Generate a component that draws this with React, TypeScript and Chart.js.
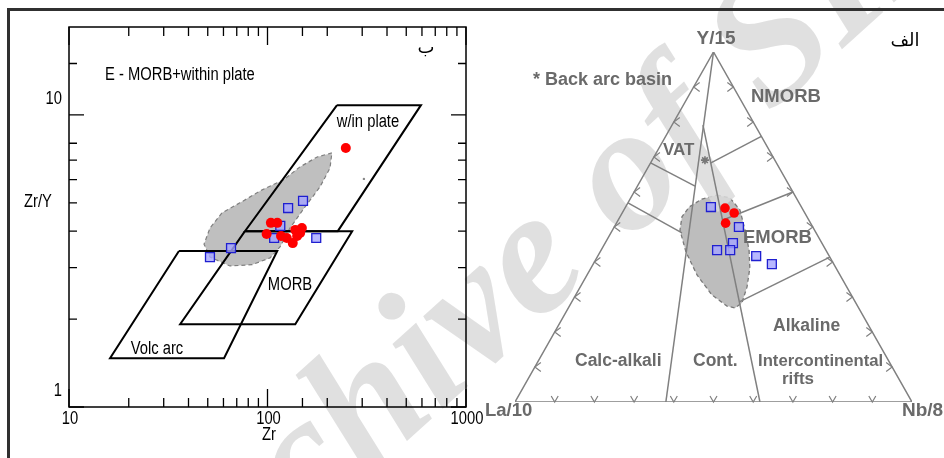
import { useEffect, useRef } from 'react';
import { Chart, registerables } from 'chart.js';

Chart.register(...registerables);

// ---------- Left diagram: Zr (log) vs Zr/Y (log) ----------
const zrMin = 10;
const zrMax = 1000;
const zrYMin = 1;
const zrYMax = 20;
const zrTickLabels = [10, 100, 1000];
const zrYTickLabels = [1, 10];
const zrYUnmarkedTicks = [9, 20];

const redZr = [248, 104, 112, 99, 117, 125, 138, 149, 141, 134, 146];
const redZrY = [7.7, 4.27, 4.27, 3.91, 3.85, 3.79, 4.04, 4.1, 3.85, 3.64, 3.94];
const blueZr = [51.3, 65.5, 108, 116, 127, 151, 176];
const blueZrY = [3.26, 3.5, 3.79, 4.17, 4.8, 5.08, 3.79];
const greyZr = [306];
const greyZrY = [6.04];

const withinPlateZr = [224, 593, 226, 77, 224];
const withinPlateZrY = [10.8, 10.8, 4.0, 4.0, 10.8];
const morbZr = [77, 267, 138, 36.3, 77];
const morbZrY = [4.0, 4.0, 1.92, 1.92, 4.0];
const volcArcZr = [35.8, 112, 60.4, 16.1, 35.8];
const volcArcZrY = [3.42, 3.42, 1.47, 1.47, 3.42];

const sampleFieldZr = [211, 178, 146, 120, 94, 72.6, 59, 51.3, 47.9, 51.3, 64.7, 83.6, 103, 115.6, 129.8, 154.5, 183.8, 206.5, 211];
const sampleFieldZrY = [7.41, 7.18, 6.64, 5.99, 5.54, 5.0, 4.62, 4.1, 3.61, 3.26, 3.04, 3.07, 3.24, 3.53, 4.1, 4.84, 5.67, 6.58, 7.41];

// ---------- Right diagram: La/10 - Y/15 - Nb/8 ternary (fractions) ----------
const ternRedLa = [0.194, 0.178, 0.214];
const ternRedY = [0.554, 0.54, 0.511];
const ternRedNb = [0.252, 0.282, 0.275];
const ternBlueLa = [0.228, 0.186, 0.224, 0.241, 0.274, 0.184, 0.156];
const ternBlueY = [0.557, 0.5, 0.454, 0.434, 0.434, 0.417, 0.394];
const ternBlueNb = [0.215, 0.314, 0.322, 0.325, 0.292, 0.399, 0.45];
const backArcLa = [0.176];
const backArcY = [0.691];
const backArcNb = [0.133];

const ternFieldLa = [0.196, 0.167, 0.159, 0.175, 0.193, 0.217, 0.251, 0.287, 0.312, 0.329, 0.351, 0.36, 0.355, 0.339, 0.315, 0.283, 0.239, 0.196];
const ternFieldY = [0.591, 0.583, 0.549, 0.491, 0.434, 0.383, 0.329, 0.283, 0.269, 0.274, 0.306, 0.363, 0.429, 0.491, 0.529, 0.557, 0.58, 0.591];
const ternFieldNb = [0.213, 0.25, 0.292, 0.334, 0.372, 0.4, 0.42, 0.43, 0.42, 0.397, 0.343, 0.277, 0.216, 0.17, 0.156, 0.16, 0.181, 0.213];

const ternFrame = [[1, 0, 0], [0, 0, 1], [0, 1, 0], [1, 0, 0]];
const calcAlkaliBoundary = [[0, 1, 0], [0.62, 0, 0.38]];
const contBoundary = [[0.131, 0.791, 0.078], [0.383, 0, 0.617]];
const vatBoundary = [[0.317, 0.683, 0], [0.238, 0.617, 0.145]];
const vatLowerBoundary = [[0.431, 0.569, 0], [0.338, 0.483, 0.179]];
const nmorbBoundary = [[0.165, 0.683, 0.152], [0, 0.759, 0.241]];
const emorbBoundary = [[0.216, 0.52, 0.264], [0, 0.6, 0.4]];
const alkalineBoundary = [[0.292, 0.286, 0.422], [0, 0.414, 0.586]];
const ternTickFractions = [0.1, 0.2, 0.3, 0.4, 0.5, 0.6, 0.7, 0.8, 0.9];

const SANS = '"Liberation Sans", Arial, sans-serif';
const NARROW_SCALE = 0.82;
const LEFT_CANVAS_X = 0;
const RIGHT_CANVAS_X = 480;
const SPLIT_X = 480;

const pairs = (xs: number[], ys: number[]) => xs.map((x, i) => ({ x, y: ys[i] }));
const tern = (la: number, y: number, nb: number) => {
  const s = la + y + nb;
  return { x: (nb + y / 2) / s, y: y / s };
};
const ternList = (pts: number[][]) => pts.map((p) => tern(p[0], p[1], p[2]));
const ternArrays = (la: number[], y: number[], nb: number[]) => la.map((v, i) => tern(v, y[i], nb[i]));
const isDecade = (v: number) => Math.abs(Math.log10(v) - Math.round(Math.log10(v))) < 1e-6;
const inList = (list: number[], v: number) => list.some((l) => Math.abs(l - v) / l < 1e-6);

const leftLabels = [
  { text: 'E - MORB+within plate', x: 105, y: 75, align: 'left' },
  { text: 'w/in plate', x: 368, y: 122, align: 'center' },
  { text: 'MORB', x: 290, y: 285, align: 'center' },
  { text: 'Volc arc', x: 157, y: 349, align: 'center' },
  { text: 'Zr', x: 269, y: 435, align: 'center' },
  { text: 'Zr/Y', x: 38, y: 202, align: 'center' },
];

const rightLabels = [
  { text: 'Y/15', x: 236, y: 39, size: 19, align: 'center' },
  { text: '* Back arc basin', x: 53, y: 80, size: 18, align: 'left' },
  { text: 'NMORB', x: 271, y: 97, size: 18.5, align: 'left' },
  { text: 'VAT', x: 183, y: 150, size: 17, align: 'left' },
  { text: 'EMORB', x: 263, y: 238, size: 18.5, align: 'left' },
  { text: 'Alkaline', x: 293, y: 326, size: 17.5, align: 'left' },
  { text: 'Calc-alkali', x: 95, y: 361, size: 17.5, align: 'left' },
  { text: 'Cont.', x: 213, y: 361, size: 17.5, align: 'left' },
  { text: 'Intercontinental', x: 278, y: 361, size: 16.7, align: 'left' },
  { text: 'rifts', x: 318, y: 379, size: 17, align: 'center' },
  { text: 'La/10', x: 5, y: 411, size: 18.5, align: 'left' },
  { text: 'Nb/8', x: 422, y: 411, size: 19, align: 'left' },
];

const narrowText = (ctx: any, text: string, x: number, y: number, align: string) => {
  ctx.save();
  ctx.translate(x, y);
  ctx.scale(NARROW_SCALE, 1);
  ctx.textAlign = align;
  ctx.fillText(text, 0, 0);
  ctx.restore();
};

// watermark, drawn above the grey fields but below the lines and symbols
const drawWatermark = (ctx: any, canvasX: number, clipFrom: number, clipTo: number) => {
  ctx.save();
  ctx.beginPath();
  ctx.rect(clipFrom - canvasX, 0, clipTo - clipFrom, 458);
  ctx.clip();
  ctx.translate(548 - canvasX, 252);
  ctx.rotate((-42 * Math.PI) / 180);
  ctx.font = 'italic bold 178px "Liberation Serif", serif';
  ctx.textAlign = 'center';
  ctx.textBaseline = 'middle';
  ctx.fillStyle = 'rgba(218,218,218,0.85)';
  ctx.fillText('Archive of SID', 0, 0);
  ctx.restore();
};

const leftDecor = {
  id: 'leftDecor',
  afterDatasetDraw(chart: any, args: any) {
    if (args.meta.order === 6) drawWatermark(chart.ctx, LEFT_CANVAS_X, 0, SPLIT_X);
  },
  afterDatasetsDraw(chart: any) {
    const { ctx, chartArea: a, scales } = chart;
    const xs = scales.x;
    const ys = scales.y;
    ctx.save();
    ctx.strokeStyle = '#000';
    ctx.lineWidth = 1.5;
    ctx.strokeRect(a.left, a.top, a.right - a.left, a.bottom - a.top);
    ctx.lineWidth = 1.3;
    ctx.beginPath();
    for (const t of xs.ticks) {
      const p = xs.getPixelForValue(t.value);
      const len = isDecade(t.value) ? 18 : 9;
      ctx.moveTo(p, a.bottom);
      ctx.lineTo(p, a.bottom - len);
      ctx.moveTo(p, a.top);
      ctx.lineTo(p, a.top + len);
    }
    for (const t of ys.ticks) {
      if (inList(zrYUnmarkedTicks, t.value)) continue;
      const p = ys.getPixelForValue(t.value);
      const len = isDecade(t.value) ? 15 : 8;
      ctx.moveTo(a.left, p);
      ctx.lineTo(a.left + len, p);
      ctx.moveTo(a.right, p);
      ctx.lineTo(a.right - len, p);
    }
    ctx.stroke();
    ctx.fillStyle = '#000';
    ctx.textBaseline = 'middle';
    ctx.font = `18px ${SANS}`;
    for (const t of xs.ticks) {
      if (!inList(zrTickLabels, t.value)) continue;
      narrowText(ctx, String(Math.round(t.value)), xs.getPixelForValue(t.value) + 1, a.bottom + 12, 'center');
    }
    for (const t of ys.ticks) {
      if (!inList(zrYTickLabels, t.value)) continue;
      narrowText(ctx, String(Math.round(t.value)), a.left - 7, ys.getPixelForValue(t.value) - 16, 'right');
    }
    for (const l of leftLabels) narrowText(ctx, l.text, l.x, l.y, l.align);
    ctx.font = '18px "DejaVu Sans", serif';
    ctx.textAlign = 'center';
    ctx.fillText('ب', 426, 48);
    ctx.restore();
  },
};

const ternDecor = {
  id: 'ternDecor',
  afterDatasetDraw(chart: any, args: any) {
    if (args.meta.order === 6) drawWatermark(chart.ctx, RIGHT_CANVAS_X, SPLIT_X, 944);
  },
  afterDatasetsDraw(chart: any) {
    const { ctx, scales } = chart;
    const xs = scales.x;
    const ys = scales.y;
    const px = (p: { x: number; y: number }) => ({ X: xs.getPixelForValue(p.x), Y: ys.getPixelForValue(p.y) });
    ctx.save();
    ctx.strokeStyle = '#808080';
    ctx.lineWidth = 1.2;
    ctx.beginPath();
    for (const f of ternTickFractions) {
      let t = px(tern(1 - f, 0, f));
      ctx.moveTo(t.X - 3.5, t.Y - 6);
      ctx.lineTo(t.X, t.Y);
      ctx.lineTo(t.X + 3.5, t.Y - 6);
      t = px(tern(f, 1 - f, 0));
      ctx.moveTo(t.X + 6, t.Y - 4.5);
      ctx.lineTo(t.X, t.Y);
      ctx.lineTo(t.X + 6, t.Y + 4.5);
      t = px(tern(0, f, 1 - f));
      ctx.moveTo(t.X - 6, t.Y - 4.5);
      ctx.lineTo(t.X, t.Y);
      ctx.lineTo(t.X - 6, t.Y + 4.5);
    }
    ctx.stroke();
    ctx.fillStyle = '#6a6a6a';
    ctx.textBaseline = 'middle';
    for (const l of rightLabels) {
      ctx.font = `bold ${l.size}px ${SANS}`;
      ctx.textAlign = l.align;
      ctx.fillText(l.text, l.x, l.y);
    }
    ctx.fillStyle = '#000';
    ctx.font = '18px "DejaVu Sans", serif';
    ctx.textAlign = 'center';
    ctx.fillText('الف', 425, 41);
    ctx.restore();
  },
};

const lineDs = (data: any[], order = 4, color = '#000', width = 2) => ({
  data,
  showLine: true,
  borderColor: color,
  borderWidth: width,
  pointRadius: 0,
  fill: false,
  order,
});

export default function App() {
  const leftRef = useRef<HTMLCanvasElement>(null);
  const rightRef = useRef<HTMLCanvasElement>(null);

  useEffect(() => {
    const left = new Chart(leftRef.current as HTMLCanvasElement, {
      type: 'scatter',
      data: {
        datasets: [
          { data: pairs(redZr, redZrY), pointStyle: 'circle', pointRadius: 5, backgroundColor: '#ff0000', borderColor: '#ff0000', borderWidth: 0, order: 1 },
          { data: pairs(blueZr, blueZrY), pointStyle: 'rect', pointRadius: 6.3, backgroundColor: 'rgba(165,165,255,0.8)', borderColor: '#1f1fd0', borderWidth: 1.3, order: 2 },
          { data: pairs(greyZr, greyZrY), pointStyle: 'circle', pointRadius: 1.2, backgroundColor: '#888', borderWidth: 0, order: 2 },
          lineDs(pairs(withinPlateZr, withinPlateZrY)),
          lineDs(pairs(morbZr, morbZrY)),
          lineDs(pairs(volcArcZr, volcArcZrY)),
          {
            data: pairs(sampleFieldZr, sampleFieldZrY),
            showLine: true,
            fill: 'shape',
            backgroundColor: '#bfbfbf',
            borderColor: '#808080',
            borderWidth: 1.2,
            borderDash: [4, 3],
            pointRadius: 0,
            order: 6,
          },
        ] as any,
      },
      options: {
        animation: false,
        responsive: false,
        events: [],
        layout: { padding: { left: 0, top: 27, right: 34, bottom: 0 } },
        plugins: { legend: { display: false }, tooltip: { enabled: false } },
        scales: {
          x: {
            type: 'logarithmic',
            min: zrMin,
            max: zrMax,
            grid: { display: false, drawTicks: false },
            border: { display: false },
            afterFit: (s: any) => { s.height = 51; },
            ticks: { display: false, autoSkip: false },
          },
          y: {
            type: 'logarithmic',
            min: zrYMin,
            max: zrYMax,
            grid: { display: false, drawTicks: false },
            border: { display: false },
            afterFit: (s: any) => { s.width = 69; },
            ticks: { display: false, autoSkip: false },
          },
        } as any,
      },
      plugins: [leftDecor],
    });

    const grey = '#808080';
    const right = new Chart(rightRef.current as HTMLCanvasElement, {
      type: 'scatter',
      data: {
        datasets: [
          { data: ternArrays(ternRedLa, ternRedY, ternRedNb), pointStyle: 'circle', pointRadius: 4.8, backgroundColor: '#ff0000', borderColor: '#ff0000', borderWidth: 0, order: 1 },
          { data: ternArrays(ternBlueLa, ternBlueY, ternBlueNb), pointStyle: 'rect', pointRadius: 6.3, backgroundColor: 'rgba(165,165,255,0.8)', borderColor: '#1f1fd0', borderWidth: 1.3, order: 2 },
          { data: ternArrays(backArcLa, backArcY, backArcNb), pointStyle: 'star', pointRadius: 4, borderColor: '#777', backgroundColor: '#777', borderWidth: 1.6, order: 3 },
          lineDs(ternList(ternFrame), 4, grey, 1.5),
          lineDs(ternList(calcAlkaliBoundary), 4, grey, 1.5),
          lineDs(ternList(contBoundary), 4, grey, 1.5),
          lineDs(ternList(vatBoundary), 4, grey, 1.5),
          lineDs(ternList(vatLowerBoundary), 4, grey, 1.5),
          lineDs(ternList(nmorbBoundary), 4, grey, 1.5),
          lineDs(ternList(emorbBoundary), 4, grey, 1.5),
          lineDs(ternList(alkalineBoundary), 4, grey, 1.5),
          {
            data: ternArrays(ternFieldLa, ternFieldY, ternFieldNb),
            showLine: true,
            fill: 'shape',
            backgroundColor: '#bdbdbd',
            borderColor: '#7a7a7a',
            borderWidth: 1.3,
            borderDash: [4, 3],
            pointRadius: 0,
            order: 6,
          },
        ] as any,
      },
      options: {
        animation: false,
        responsive: false,
        events: [],
        layout: { padding: { left: 35, top: 52, right: 32, bottom: 56 } },
        plugins: { legend: { display: false }, tooltip: { enabled: false } },
        scales: {
          x: { type: 'linear', min: 0, max: 1, display: false },
          y: { type: 'linear', min: 0, max: 1, display: false },
        },
      },
      plugins: [ternDecor],
    });

    return () => {
      left.destroy();
      right.destroy();
    };
  }, []);

  return (
    <div style={{ position: 'fixed', left: 0, top: 0, width: 944, height: 458, background: '#fff', overflow: 'hidden' }}>
      <canvas ref={leftRef} width={500} height={458} style={{ position: 'absolute', left: LEFT_CANVAS_X, top: 0 }} />
      <canvas ref={rightRef} width={464} height={458} style={{ position: 'absolute', left: RIGHT_CANVAS_X, top: 0 }} />
      <div
        style={{
          position: 'absolute',
          left: 7,
          top: 8,
          width: 1000,
          height: 1000,
          borderTop: '3px solid #303030',
          borderLeft: '3px solid #303030',
        }}
      />
    </div>
  );
}
